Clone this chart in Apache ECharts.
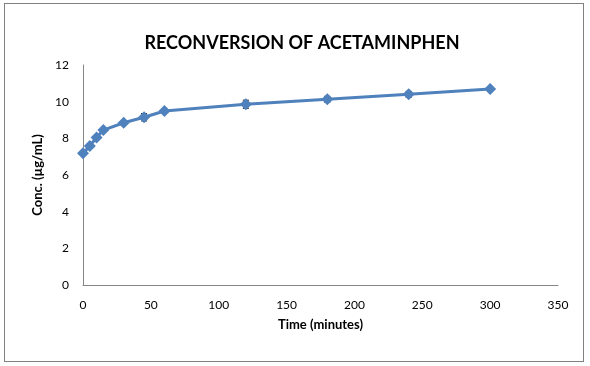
<!DOCTYPE html>
<html><head><meta charset="utf-8">
<script src="https://cdn.jsdelivr.net/npm/echarts@6/dist/echarts.min.js"></script>
<style>html,body{margin:0;padding:0;background:#fff}#c{width:590px;height:366px}
#frame{position:absolute;left:4px;top:3px;width:578px;height:357px;border:1px solid #808080;pointer-events:none}</style>
</head><body><div id="c"></div><div id="frame"></div>
<script>
var times = [0, 5, 10, 15, 30, 45, 60, 120, 180, 240, 300];
var conc = [7.18, 7.58, 8.05, 8.45, 8.85, 9.15, 9.49, 9.86, 10.13, 10.4, 10.69];
var errs = [0.05, 0.05, 0.05, 0.05, 0.08, 0.2, 0.08, 0.22, 0.16, 0.16, 0.06];
var xTicks = [0, 50, 100, 150, 200, 250, 300, 350];
var yTicks = [0, 2, 4, 6, 8, 10, 12];

var pts = times.map(function(t,i){return [t, conc[i]];});
var errData = times.map(function(t,i){return [t, conc[i]-errs[i], conc[i]+errs[i]];});
var font = 'Lato, "Open Sans", sans-serif';
var chart = echarts.init(document.getElementById('c'));
chart.setOption({
  animation:false,
  title:{text:'RECONVERSION OF ACETAMINPHEN', left:297, top:29, textAlign:'center',
    textStyle:{fontFamily:font, fontSize:18, fontWeight:'bold', color:'#000'}},
  grid:{left:83, right:32, top:65, bottom:81},
  xAxis:{type:'value', min:0, max:350, interval:50,
    name:'Time (minutes)', nameLocation:'middle', nameGap:33,
    nameTextStyle:{fontFamily:font, fontSize:13, fontWeight:'bold', color:'#000'},
    axisLine:{lineStyle:{color:'#868686'}}, axisTick:{show:false}, splitLine:{show:false},
    axisLabel:{fontFamily:font, fontSize:12, color:'#000', margin:14}},
  yAxis:{type:'value', min:0, max:12, interval:2,
    name:'Conc. (µg/mL)', nameLocation:'middle', nameGap:36,
    nameTextStyle:{fontFamily:font, fontSize:13, fontWeight:'bold', color:'#000'},
    axisLine:{show:true, lineStyle:{color:'#868686'}}, axisTick:{show:false}, splitLine:{show:false},
    axisLabel:{fontFamily:font, fontSize:12, color:'#000', margin:14}},
  series:[
    {type:'custom', data:errData, z:1,
      renderItem:function(params, api){
        var x = api.value(0);
        var lo = api.coord([x, api.value(1)]);
        var hi = api.coord([x, api.value(2)]);
        var w = 3;
        return {type:'group', children:[
          {type:'line', shape:{x1:lo[0],y1:lo[1],x2:hi[0],y2:hi[1]}, style:{stroke:'#000', lineWidth:1}},
          {type:'line', shape:{x1:lo[0]-w,y1:lo[1],x2:lo[0]+w,y2:lo[1]}, style:{stroke:'#000', lineWidth:1}},
          {type:'line', shape:{x1:hi[0]-w,y1:hi[1],x2:hi[0]+w,y2:hi[1]}, style:{stroke:'#000', lineWidth:1}}
        ]};
      }},
    {type:'line', data:pts, symbol:'diamond', symbolSize:12,
      lineStyle:{color:'#4F81BD', width:3}, itemStyle:{color:'#4F81BD'}, z:2}
  ]
});
</script></body></html>
